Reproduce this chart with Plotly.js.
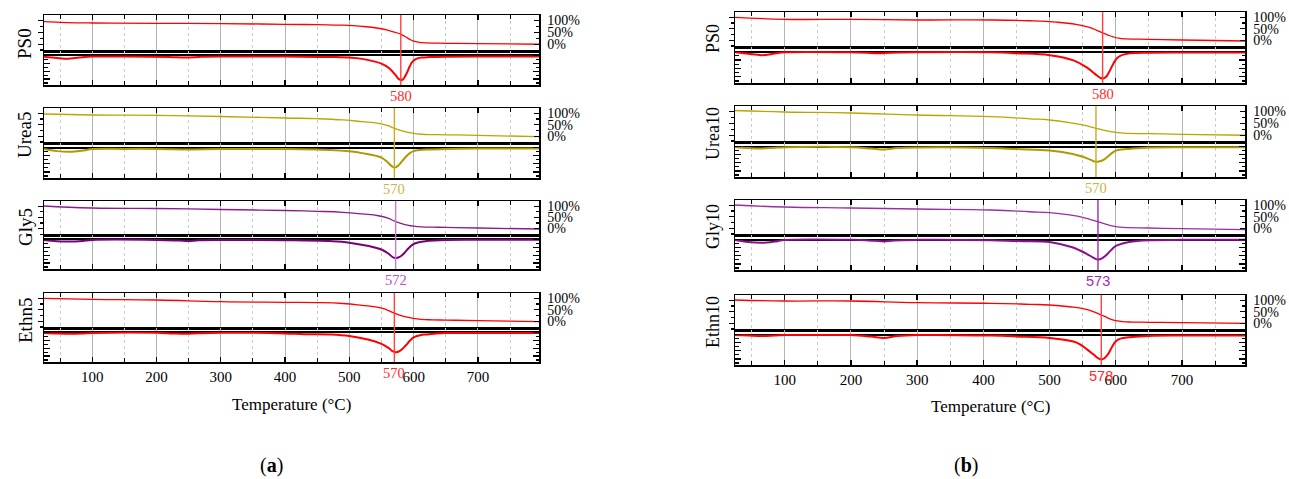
<!DOCTYPE html>
<html><head><meta charset="utf-8">
<script src="https://cdn.plot.ly/plotly-3.0.1.min.js"></script>
<style>html,body{margin:0;padding:0;background:#fff}#chart{width:1289px;height:479px}</style>
</head><body><div id="chart"></div>
<script>
// ---------------- DATA ----------------
const panelLabels = ['(<b>a</b>)', '(<b>b</b>)'];
const xTitle = 'Temperature (°C)';
const namesA = ['PS0', 'Urea5', 'Gly5', 'Ethn5'];
const namesB = ['PS0', 'Urea10', 'Gly10', 'Ethn10'];
const peaksA = [580, 570, 572, 570];
const peaksB = [580, 570, 573, 578];
const tgTickVals = [0, 50, 100];
const tgTickText = ['0%', '50%', '100%'];

// panel (a) TG (mass, %) and DTG (arbitrary units)
const ps0aTgT  = [25, 60, 100, 200, 300, 400, 450, 490, 520, 545, 562, 575, 582, 588, 594, 600, 608, 620, 650, 700, 795];
const ps0aTg   = [94.7, 91, 89.2, 88, 86.3, 83.8, 82, 80, 75, 67, 57, 47, 39, 30, 20, 12.5, 7.8, 5.3, 3.6, 2.3, -0.6];
const ps0aDtgT = [25, 45, 62, 80, 100, 150, 220, 245, 270, 300, 400, 450, 480, 500, 520, 550, 562, 572, 576, 580, 583, 586, 590, 594, 598, 604, 612, 625, 650, 700, 795];
const ps0aDtg  = [-1.2, -2.5, -3.3, -2.2, -1.2, -1, -1.5, -2.2, -1.3, -1, -1.2, -1.5, -1.7, -2, -3.5, -8.3, -13, -20, -23.5, -25, -24.5, -22, -17, -11, -6.5, -3.5, -2.2, -1.7, -1.3, -1, -1];

const ureaaTgT  = [25, 100, 200, 300, 400, 450, 490, 520, 545, 560, 569, 578, 588, 600, 612, 630, 650, 700, 795];
const ureaaTg   = [97, 92.6, 91.3, 86, 79.6, 76.5, 71, 63.5, 56, 46, 36, 27, 19, 12.5, 9, 7.5, 6.5, 4.5, -1.6];
const ureaaDtgT = [25, 45, 65, 85, 100, 150, 200, 250, 300, 400, 450, 470, 500, 520, 549, 560, 565, 569, 572, 576, 580, 584, 588, 594, 600, 610, 620, 650, 700, 795];
const ureaaDtg  = [-1.5, -3.5, -4.2, -3, -1.5, -1.3, -1.3, -1.8, -1.5, -1.5, -2, -2.3, -3.7, -5.5, -9.7, -14.7, -17.8, -19.5, -19.5, -17.8, -15, -12, -9, -5.5, -3.5, -2.4, -1.9, -1.3, -1, -1];

const glyaTgT  = [25, 100, 200, 300, 400, 450, 490, 520, 545, 560, 571, 580, 590, 600, 612, 630, 650, 700, 795];
const glyaTg   = [100.6, 91.7, 89.5, 85, 80.5, 77, 72.5, 65, 57, 46, 32, 23, 15.5, 10.5, 7.5, 6, 5, 2.3, -2.2];
const glyaDtgT = [25, 45, 65, 85, 100, 200, 235, 250, 265, 300, 400, 469, 500, 549, 562, 568, 572, 576, 581, 586, 592, 599, 608, 619, 650, 700, 795];
const glyaDtg  = [-0.5, -1.8, -2.2, -1.5, -0.5, -0.5, -1.2, -1.6, -0.8, -0.5, -0.8, -1.7, -3.3, -10, -15, -18.3, -19, -18.3, -16.5, -13.5, -9, -5, -2.8, -1.7, -0.5, -0.3, -0.3];

const ethnaTgT  = [25, 100, 200, 300, 400, 450, 490, 520, 545, 558, 569, 578, 588, 600, 612, 630, 650, 700, 795];
const ethnaTg   = [100, 95.6, 92.6, 85.2, 82.6, 81.5, 77.5, 69.5, 61, 50, 37, 27, 19, 13, 8.5, 6.5, 5.5, 2.9, -1.6];
const ethnaDtgT = [25, 45, 65, 85, 100, 200, 225, 245, 265, 300, 400, 430, 469, 500, 549, 562, 567, 572, 577, 582, 588, 594, 600, 610, 620, 650, 700, 795];
const ethnaDtg  = [-0.5, -1, -1.3, -1, -0.5, -0.3, -1, -1.4, -0.8, -0.3, -1, -1.8, -2, -3.7, -11.3, -16.3, -19, -20, -19.3, -17, -13, -8.5, -5, -2.8, -2, -0.7, -0.5, -0.5];

// panel (b)
const ps0bTgT  = [25, 100, 200, 300, 411, 470, 510, 540, 560, 573, 581, 588, 596, 604, 615, 650, 700, 795];
const ps0bTg   = [100, 91.3, 91.3, 88.3, 88.3, 85, 79, 69, 56, 41, 31, 23, 15, 9.5, 6.5, 4.5, 1.5, -2.9];
const ps0bDtgT = [25, 45, 65, 85, 100, 200, 230, 245, 260, 300, 411, 450, 500, 536, 556, 566, 572, 577, 581, 585, 589, 593, 597, 602, 610, 621, 650, 700, 795];
const ps0bDtg  = [-0.6, -2, -3.3, -1.8, -0.6, -0.6, -1.2, -1.6, -1, -0.6, -0.6, -1.5, -3.3, -8.3, -15, -20, -23, -25.2, -25.6, -24.3, -20.5, -15.5, -10.5, -6, -3, -1.6, -1, -0.8, -0.8];

const ureabTgT  = [25, 100, 200, 300, 411, 470, 500, 530, 550, 560, 570, 580, 590, 600, 612, 650, 700, 795];
const ureabTg   = [104, 97.7, 93.5, 85, 77.8, 69, 63.9, 53, 43, 36, 29, 22, 16, 12, 8.5, 6.1, 3.6, -0.6];
const ureabDtgT = [25, 45, 65, 85, 100, 200, 230, 250, 270, 300, 411, 450, 500, 535, 550, 563, 568, 572, 577, 582, 588, 594, 600, 610, 620, 650, 700, 795];
const ureabDtg  = [-0.7, -1.5, -2, -1.2, -0.7, -0.7, -2, -3, -1.5, -0.8, -1.3, -2.5, -4, -7.3, -10, -13.3, -14.8, -15, -14.3, -12.8, -9.8, -6.5, -4, -2.8, -2.3, -1, -0.7, -0.7];

const glybTgT  = [25, 100, 200, 300, 411, 470, 500, 530, 550, 562, 573, 582, 592, 600, 612, 650, 700, 795];
const glybTg   = [101.3, 92.6, 88.3, 84, 79.6, 72, 67.9, 58, 48, 38, 29, 20, 12, 7.5, 4, 1.5, -1.6, -5.9];
const glybDtgT = [25, 45, 65, 85, 100, 200, 235, 250, 265, 300, 411, 450, 500, 533, 545, 556, 565, 570, 574, 579, 584, 589, 595, 600, 610, 620, 650, 700, 795];
const glybDtg  = [-0.5, -2.5, -3.2, -2, -0.5, -0.3, -1.2, -1.8, -0.8, -0.3, -0.7, -1.5, -2.3, -7.3, -10.5, -14, -17.5, -19.3, -19.7, -18.5, -16.2, -13, -9, -6.3, -3.8, -2.3, -0.7, -0.3, -0.3];

const ethnbTgT  = [25, 100, 200, 300, 411, 470, 500, 530, 552, 566, 578, 586, 593, 600, 610, 625, 650, 700, 795];
const ethnbTg   = [101.3, 97, 97, 89.6, 87, 82.5, 79.6, 72, 63, 51, 36.2, 26, 17.5, 12, 7.5, 5.5, 4.5, 2.8, 0.2];
const ethnbDtgT = [25, 45, 65, 85, 100, 150, 200, 230, 250, 270, 300, 411, 450, 500, 540, 556, 566, 572, 576, 580, 584, 589, 594, 600, 608, 620, 650, 700, 795];
const ethnbDtg  = [-0.5, -1, -1.5, -1, -0.5, -0.5, -0.5, -2, -3.3, -1.5, -0.5, -1, -1.8, -3.3, -7.7, -14.3, -19.5, -22.8, -24.2, -24.2, -22.5, -18.5, -12.5, -6.5, -3.8, -2.7, -1.3, -1, -1];

// ---------------- STYLE / LAYOUT ----------------
const SERIF = 'Liberation Serif, Times New Roman, Times, serif';
const SANS = 'Liberation Sans, Arial, Helvetica, sans-serif';
const W = 1289, H = 479;
const panelPx = [[44, 539], [735, 1245]];
const rowPx = [
  [[15, 51, 85], [108, 143, 178], [201, 235, 269], [293, 328, 362]],
  [[12, 47, 83], [106, 142, 177], [200, 235, 270], [295, 330, 365]]
];
const yLabelX = [25, 713];
const red = {tg: '#ff0000', dtg: '#ff0000', vl: '#ff4040', lab: '#ff2a2a'};
const olive = {tg: '#bba600', dtg: '#ae9a00', vl: '#c4ae20', lab: '#c8b448'};
const purpleA = {tg: '#8e1b8e', dtg: '#7a007a', vl: '#c77ad6', lab: '#b552c4'};
const purpleB = {tg: '#9a30a0', dtg: '#8a108e', vl: '#9b2fa8', lab: '#9b2fa8'};

const samples = [
  {name: namesA[0], peak: peaksA[0], tgT: ps0aTgT, tg: ps0aTg, dT: ps0aDtgT, d: ps0aDtg, c: red, lf: SERIF},
  {name: namesA[1], peak: peaksA[1], tgT: ureaaTgT, tg: ureaaTg, dT: ureaaDtgT, d: ureaaDtg, c: olive, lf: SERIF},
  {name: namesA[2], peak: peaksA[2], tgT: glyaTgT, tg: glyaTg, dT: glyaDtgT, d: glyaDtg, c: purpleA, lf: SERIF},
  {name: namesA[3], peak: peaksA[3], tgT: ethnaTgT, tg: ethnaTg, dT: ethnaDtgT, d: ethnaDtg, c: red, lf: SERIF},
  {name: namesB[0], peak: peaksB[0], tgT: ps0bTgT, tg: ps0bTg, dT: ps0bDtgT, d: ps0bDtg, c: red, lf: SERIF},
  {name: namesB[1], peak: peaksB[1], tgT: ureabTgT, tg: ureabTg, dT: ureabDtgT, d: ureabDtg, c: olive, lf: SERIF},
  {name: namesB[2], peak: peaksB[2], tgT: glybTgT, tg: glybTg, dT: glybDtgT, d: glybDtg, c: purpleB, lf: SANS},
  {name: namesB[3], peak: peaksB[3], tgT: ethnbTgT, tg: ethnbTg, dT: ethnbDtgT, d: ethnbDtg, c: red, lf: SANS}
];

const layout = {
  width: W, height: H, margin: {l: 0, r: 0, t: 0, b: 0},
  paper_bgcolor: '#fff', plot_bgcolor: 'rgba(0,0,0,0)', showlegend: false,
  font: {family: SERIF, color: '#000', size: 14},
  annotations: [], shapes: []
};
const traces = [];
const nm = (a, i) => i === 1 ? a : a + i;
const key = (a, i) => i === 1 ? a + 'axis' : a + 'axis' + i;

function xAxisBase(dom) {
  return {
    range: [25, 795], domain: dom, showline: true, linecolor: '#000', linewidth: 1.5, mirror: true,
    ticks: 'inside', ticklen: 5, tickwidth: 1.3, tickcolor: '#000', tick0: 0, dtick: 100,
    showgrid: true, gridcolor: '#b4b4b4', gridwidth: 1, zeroline: false, fixedrange: true,
    minor: {tick0: 0, dtick: 50, ticks: 'inside', ticklen: 4, tickwidth: 1, tickcolor: '#000',
            showgrid: true, gridcolor: '#cccccc', griddash: 'dot', gridwidth: 1}
  };
}

samples.forEach((s, k) => {
  const p = k < 4 ? 0 : 1, r = k % 4;
  const P = panelPx[p], R = rowPx[p][r];
  const xt = 2 * k + 1, xb = 2 * k + 2, yt = 3 * k + 1, yr = 3 * k + 2, yb = 3 * k + 3;
  const xdom = [P[0] / W, P[1] / W];
  const topDom = [1 - R[1] / H, 1 - R[0] / H];
  const botDom = [1 - R[2] / H, 1 - R[1] / H];
  const last = r === 3;

  layout[key('x', xt)] = Object.assign(xAxisBase(xdom), {anchor: nm('y', yt), side: 'top', showticklabels: false});
  layout[key('x', xb)] = Object.assign(xAxisBase(xdom), {anchor: nm('y', yb), side: 'bottom', showticklabels: last,
    tickfont: {family: SERIF, size: 15, color: '#000'}, ticklabelstandoff: 0});

  layout[key('y', yt)] = {domain: topDom, anchor: nm('x', xt), range: [-29, 123], showline: true, linecolor: '#000', linewidth: 1.5,
    ticks: 'outside', ticklen: 5, tickwidth: 1.2, tickcolor: '#000', tick0: 0, dtick: 50,
    minor: {tick0: 0, dtick: 25, ticks: 'outside', ticklen: 3, tickcolor: '#000'},
    showticklabels: false, showgrid: false, zeroline: false, fixedrange: true};
  layout[key('y', yr)] = {overlaying: nm('y', yt), anchor: nm('x', xt), side: 'right', range: [-29, 123],
    showline: true, linecolor: '#000', linewidth: 1.5, ticks: 'inside', ticklen: 5, tickwidth: 1.2, tickcolor: '#000',
    tickmode: 'array', tickvals: tgTickVals, ticktext: tgTickText,
    minor: {tick0: 0, dtick: 25, ticks: 'inside', ticklen: 3, tickcolor: '#000'},
    tickfont: {family: SERIF, size: 14, color: '#000'}, ticklabelstandoff: 4,
    showgrid: false, zeroline: false, fixedrange: true};
  layout[key('y', yb)] = {domain: botDom, anchor: nm('x', xb), range: [-30, 4.5], showline: true, linecolor: '#000', linewidth: 1.5,
    mirror: 'ticks', ticks: 'inside', ticklen: 6, tickwidth: 1.2, tickcolor: '#000', tick0: 0, dtick: 8,
    minor: {tick0: 0, dtick: 4, ticks: 'inside', ticklen: 3.5, tickcolor: '#000'},
    showticklabels: false, showgrid: false, zeroline: true, zerolinecolor: '#000', zerolinewidth: 2, fixedrange: true};

  traces.push({x: s.tgT, y: s.tg, xaxis: nm('x', xt), yaxis: nm('y', yt), type: 'scatter', mode: 'lines',
    line: {color: s.c.tg, width: 1.3, shape: 'spline', smoothing: 1.3}, hoverinfo: 'skip', name: s.name + ' TG'});
  traces.push({x: [25], y: [null], xaxis: nm('x', xt), yaxis: nm('y', yr), type: 'scatter', mode: 'lines',
    hoverinfo: 'skip', showlegend: false});
  traces.push({x: s.dT, y: s.d, xaxis: nm('x', xb), yaxis: nm('y', yb), type: 'scatter', mode: 'lines',
    line: {color: s.c.dtg, width: 2, shape: 'spline', smoothing: 1}, hoverinfo: 'skip', name: s.name + ' DTG'});

  layout.shapes.push({type: 'line', xref: nm('x', xb), yref: 'paper', x0: s.peak, x1: s.peak,
    y0: 1 - R[2] / H, y1: 1 - R[0] / H, line: {color: s.c.vl, width: 1.4}, layer: 'above'});
  layout.annotations.push({xref: nm('x', xb), yref: 'paper', x: s.peak, y: 1 - R[2] / H, yanchor: 'top', xanchor: 'center',
    yshift: -1, text: String(s.peak), showarrow: false, font: {family: s.lf, size: 14.5, color: s.c.lab}});
  layout.annotations.push({xref: 'paper', yref: 'paper', x: yLabelX[p] / W, y: 1 - (R[1] - 8) / H, xanchor: 'center', yanchor: 'middle',
    textangle: -90, text: s.name, showarrow: false, font: {family: SERIF, size: p === 0 ? 19 : 18, color: '#000'}});
});

// axis titles and panel letters
[[291.5, 404], [990, 406]].forEach((pos) => {
  layout.annotations.push({xref: 'paper', yref: 'paper', x: pos[0] / W, y: 1 - pos[1] / H, xanchor: 'center', yanchor: 'middle',
    text: xTitle, showarrow: false, font: {family: SERIF, size: 17, color: '#000'}});
});
[[271, 465], [966, 465]].forEach((pos, i) => {
  layout.annotations.push({xref: 'paper', yref: 'paper', x: pos[0] / W, y: 1 - pos[1] / H, xanchor: 'center', yanchor: 'middle',
    text: panelLabels[i], showarrow: false, font: {family: SERIF, size: 20, color: '#000'}});
});

Plotly.newPlot('chart', traces, layout, {staticPlot: true, displayModeBar: false});
</script></body></html>
